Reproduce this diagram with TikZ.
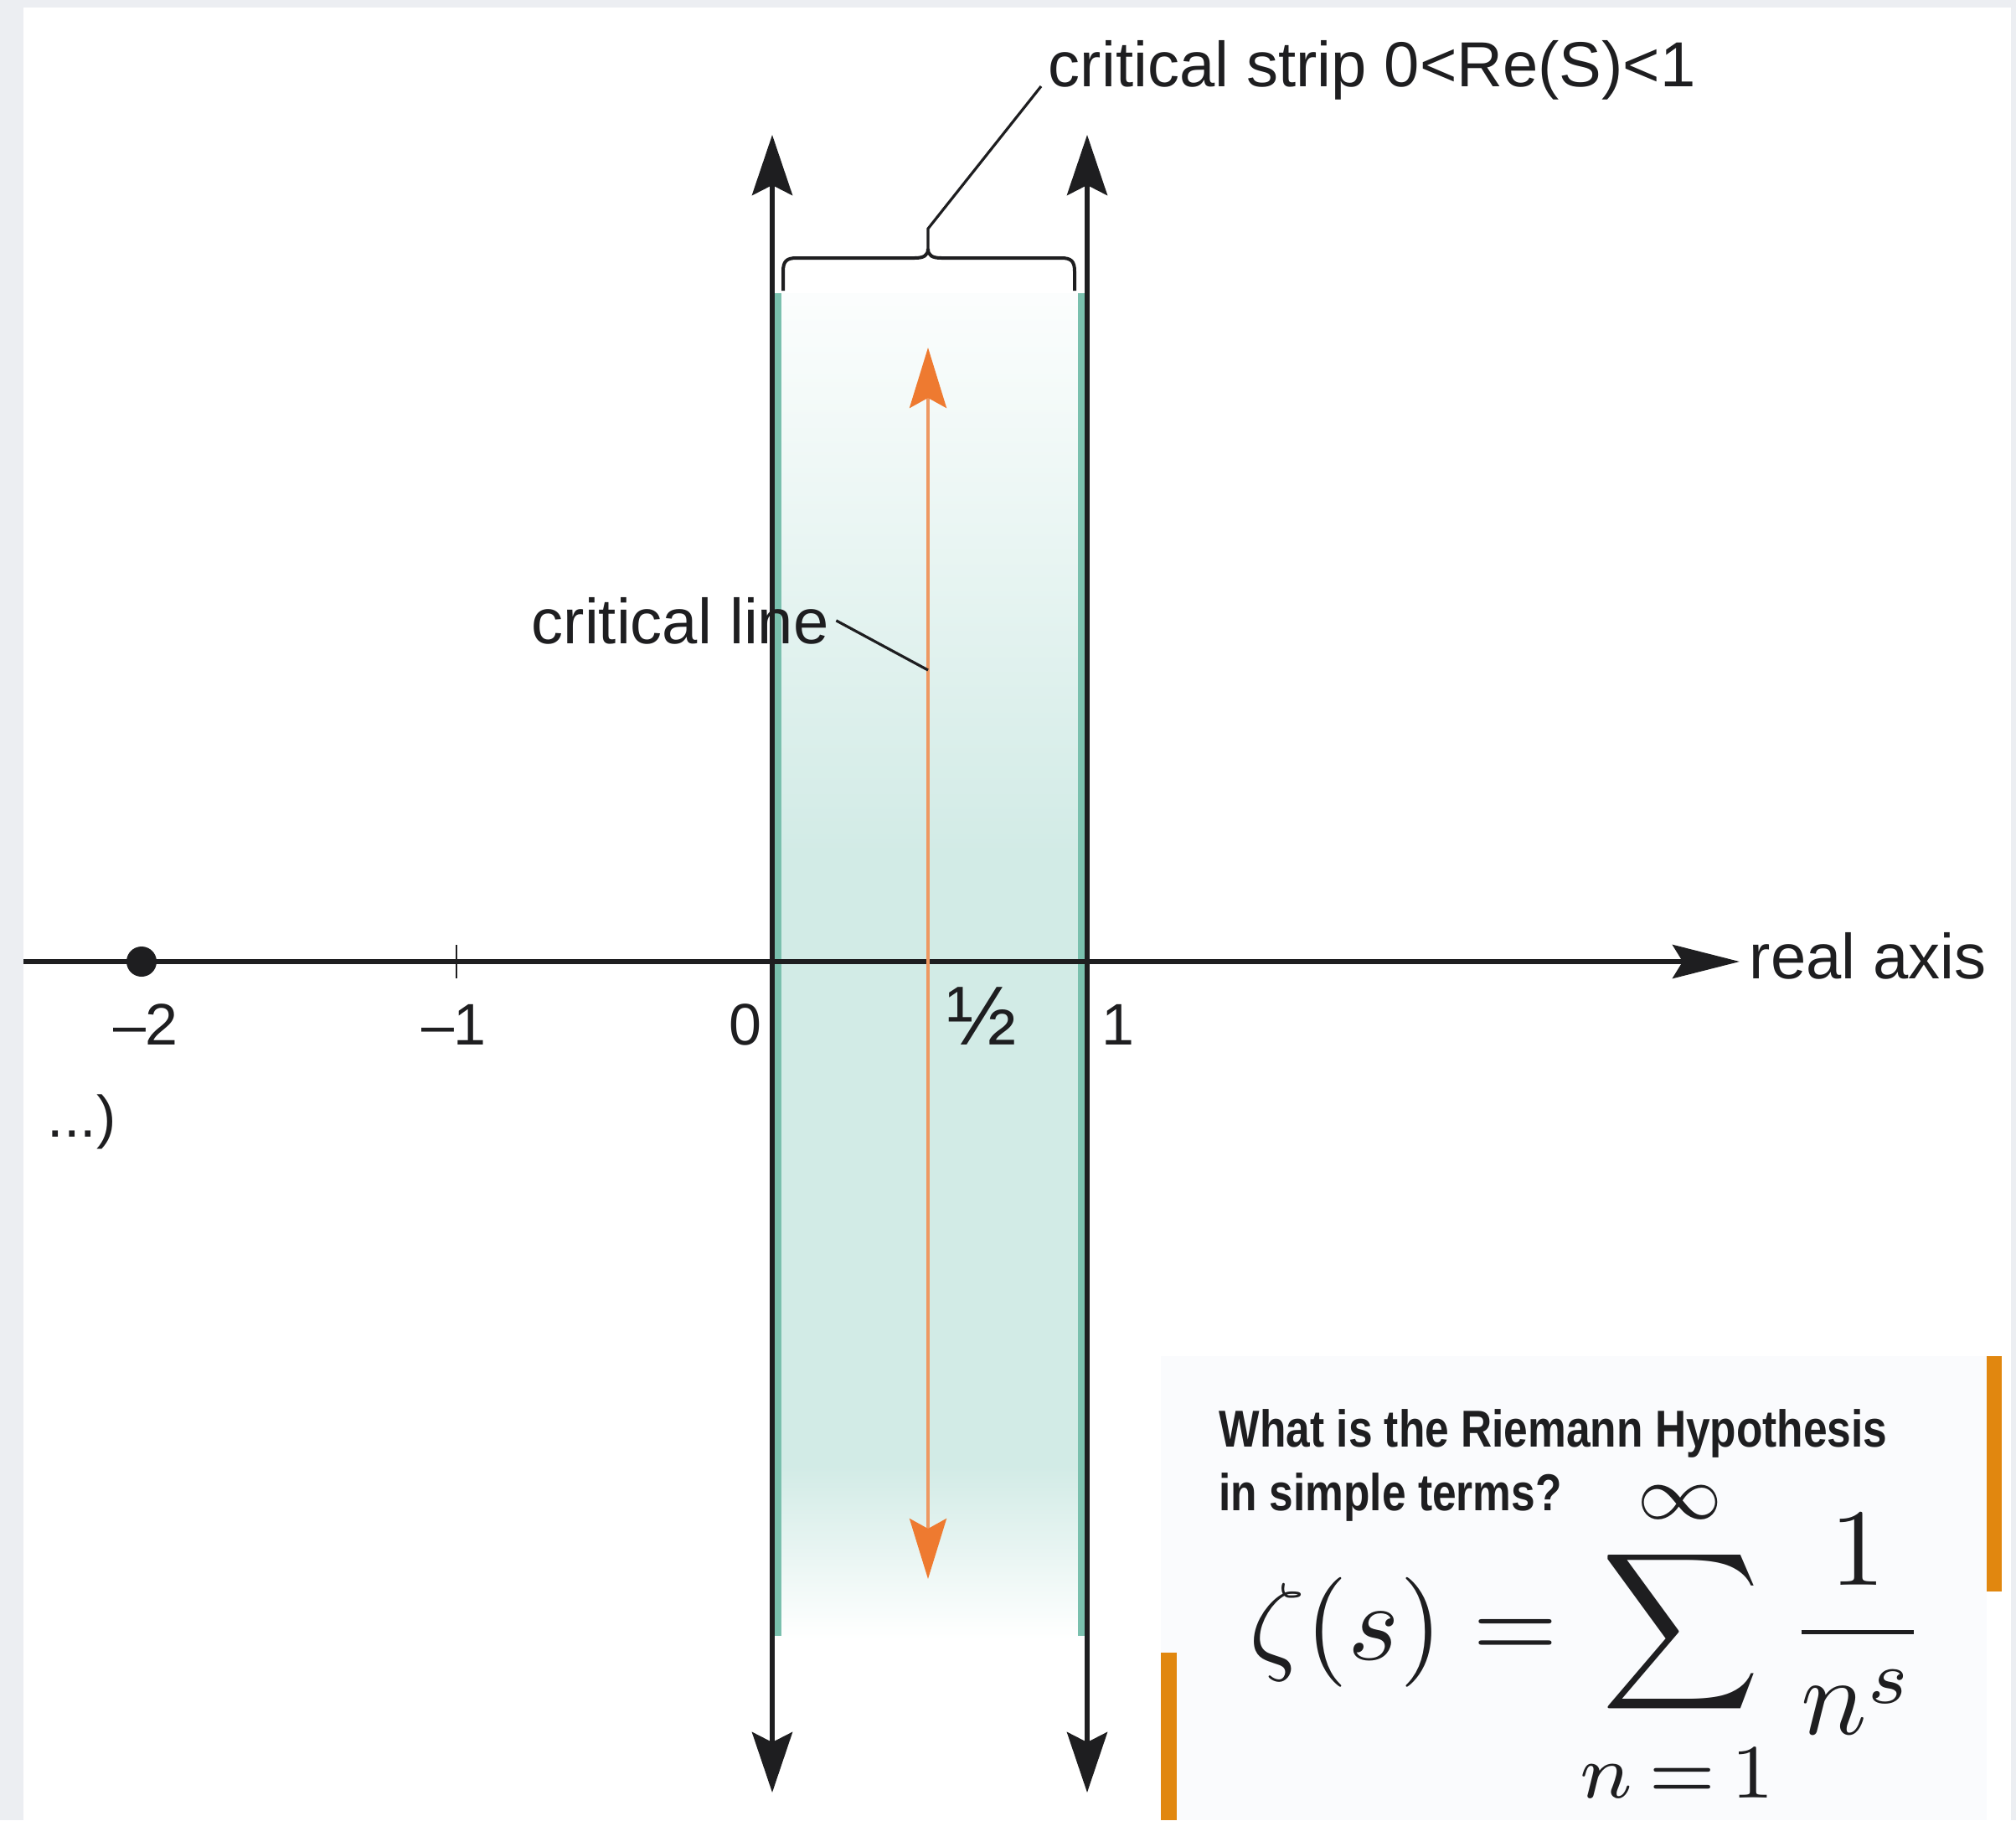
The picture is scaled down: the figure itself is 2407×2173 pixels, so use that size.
\documentclass[tikz,border=0pt]{standalone}
\usepackage{amsmath}
\usepackage{fontspec}
\newfontfamily\labelfont{Liberation Sans}
\usetikzlibrary{arrows.meta}
\definecolor{ink}{RGB}{30,30,32}
\definecolor{frame}{RGB}{236,238,242}
\definecolor{panel}{RGB}{250,251,253}
\definecolor{strip}{RGB}{210,235,230}
\definecolor{stripedge}{RGB}{122,192,174}
\definecolor{critline}{RGB}{238,152,98}
\definecolor{crithead}{RGB}{238,122,48}
\definecolor{barorange}{RGB}{225,135,15}
\tikzset{
  lbl/.style={font=\labelfont\fontsize{19}{23}\selectfont,text=ink,inner sep=2pt},
  ticklbl/.style={lbl,font=\labelfont\fontsize{17.5}{21}\selectfont},
  question/.style={font=\labelfont\bfseries\fontsize{15.5}{19}\selectfont,
    text=ink,inner sep=0pt,xscale=0.83},
  formula/.style={scale=3.275,inner sep=0pt,text=ink},
  bound/.style={line width=1.5pt,draw=ink,
    >={Stealth[length=18pt,width=12pt,inset=3pt]},<->},
  critarrow/.style={line width=1pt,draw=critline,
    >={Stealth[length=18pt,width=11pt,inset=3pt,color=crithead]},<->},
  axis/.style={line width=1.5pt,draw=ink,
    >={Stealth[length=20pt,width=10pt,inset=3pt]},->},
  leader/.style={line width=0.8pt,draw=ink},
  brace/.style={line width=1pt,draw=ink}
}

\begin{document}
\begin{tikzpicture}[x=0.25pt,y=-0.25pt]
    \useasboundingbox (0,0) rectangle (2407,2173);
    \fill[frame] (0,0) rectangle (2407,2173);
    \fill[white] (28,9) rectangle (2401,2173);

    \coordinate (axl) at (28,1148);
    \coordinate (axr) at (2077,1148);
    \coordinate (b0top) at (922,161);
    \coordinate (b0bot) at (922,2140);
    \coordinate (b1top) at (1298,161);
    \coordinate (b1bot) at (1298,2140);
    \coordinate (hftop) at (1108,415);
    \coordinate (hfbot) at (1108,1885);
    \coordinate (hfmark) at (1108,800);
    \coordinate (bl) at (935,347);
    \coordinate (br) at (1283,347);
    \coordinate (bt) at (1108,297);

    % critical strip
    \shade[top color=strip!8,bottom color=strip] (922,350) rectangle (1298,1020);
    \fill[strip] (922,1018) rectangle (1298,1752);
    \shade[top color=strip,bottom color=white] (922,1750) rectangle (1298,1957);
    \draw[stripedge,line width=1.9pt] (929,350) -- (929,1953) (1291,350) -- (1291,1953);

    \draw[axis] (axl) -- (axr);
    \draw[bound] (b0bot) -- (b0top);
    \draw[bound] (b1bot) -- (b1top);
    \draw[critarrow] (hfbot) -- (hftop);
    \node[circle,fill=ink,inner sep=0pt,minimum size=9pt] (pole) at (169,1148) {};
    \draw[ink,line width=0.6pt] (545,1128) -- (545,1168);

    \node[ticklbl,anchor=base] (lm2) at (174,1247) {–2};
    \node[ticklbl,anchor=base] (lm1) at (542,1247) {–1};
    \node[ticklbl,anchor=base] (l0) at (890,1247) {0};
    \node[ticklbl,font=\labelfont\fontsize{25}{25}\selectfont,anchor=base] (lhalf) at (1172,1247) {½};
    \node[ticklbl,anchor=base] (l1) at (1335,1247) {1};
    \node[ticklbl,anchor=base west] (ldots) at (48,1357) {...)};
    \node[lbl,anchor=base west] (lblaxis) at (2080,1168) {real axis};
    \node[lbl,anchor=base west] (lblline) at (626,768) {critical line};
    \node[lbl,anchor=base west] (lblstrip) at (1243,103) {critical strip 0<Re(S)<1};

    \draw[brace] (bl) -- (935,324) .. controls (935,312) and (939,308) .. (951,308)
      -- (1092,308) .. controls (1103,308) and (1108,305) .. (bt)
      .. controls (1108,305) and (1113,308) .. (1124,308)
      -- (1267,308) .. controls (1279,308) and (1283,312) .. (1283,324) -- (br);
    \draw[leader] (bt) -- ++(0,-24) -- (lblstrip.base west);
    \draw[leader] (lblline.east) -- (hfmark);

    % formula card
    \fill[panel] (1386,1619) rectangle (2372,2173);
    \fill[barorange] (2372,1619) rectangle (2390,1900);
    \fill[barorange] (1386,1973) rectangle (1405,2173);
    \node[question,anchor=base west] (q1) at (1455,1727) {What is the Riemann Hypothesis};
    \node[question,anchor=base west] (q2) at (1455,1803) {in simple terms?};
    \node[formula,anchor=base east] (zeta) at (1863,1981) {$\zeta(s)=$};
    \node[formula] (sum) at (2007,1948) {$\displaystyle\sum$};
    \node[formula,anchor=base] (upper) at (2006,1813) {$\scriptstyle\infty$};
    \node[formula,anchor=base] (lower) at (2002,2146) {$\scriptstyle n\,=\,1$};
    \node[formula,anchor=base] (frac) at (2218,1981) {$\dfrac{1}{n^s}$};
\end{tikzpicture}
\end{document}
